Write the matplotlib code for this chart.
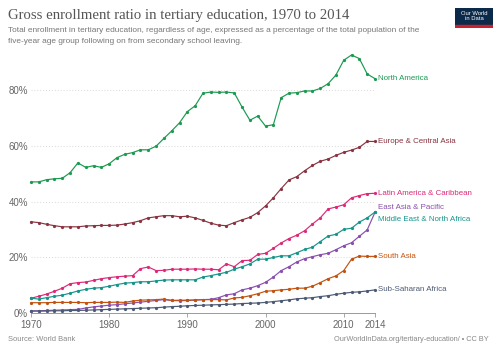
import matplotlib.pyplot as plt
import numpy as np

years = list(range(1970, 2015))

north_america = [47.1, 47.1, 47.9, 48.2, 48.4, 50.4, 53.9, 52.3, 52.9, 52.3,
                 53.6, 55.8, 57.0, 57.6, 58.6, 58.6, 59.9, 62.7, 65.4, 68.3,
                 72.3, 74.4, 78.9, 79.3, 79.2, 79.3, 79.0, 73.9, 69.2, 70.7,
                 67.1, 67.6, 77.3, 78.9, 79.1, 79.7, 79.7, 80.6, 82.3, 85.4,
                 90.7, 92.6, 91.3, 85.8, 84.1]
europe = [32.8, 32.5, 31.9, 31.4, 31.0, 31.0, 31.0, 31.3, 31.4, 31.5,
          31.5, 31.6, 32.0, 32.5, 33.2, 34.2, 34.6, 35.0, 35.0, 34.6,
          34.8, 34.2, 33.3, 32.3, 31.6, 31.4, 32.5, 33.5, 34.4, 36.1,
          38.5, 41.4, 44.7, 47.8, 49.0, 51.1, 53.0, 54.5, 55.3, 56.6,
          57.7, 58.5, 59.5, 61.6, 61.6]
latin_america = [5.4, 6.1, 6.9, 7.9, 9.0, 10.6, 11.0, 11.2, 11.8, 12.4,
                 12.8, 13.1, 13.3, 13.5, 16.0, 16.6, 15.3, 15.4, 15.8, 15.8,
                 15.8, 15.9, 15.8, 15.8, 15.6, 17.7, 16.7, 18.9, 19.0, 21.1,
                 21.5, 23.3, 25.2, 26.8, 28.0, 29.6, 32.0, 34.2, 37.4, 38.1,
                 38.9, 41.4, 42.2, 42.9, 43.0]
east_asia = [0.8, 0.9, 1.0, 1.1, 1.2, 1.3, 1.4, 1.9, 2.3, 2.6,
             2.9, 3.1, 3.4, 3.7, 4.0, 4.3, 4.6, 4.9, 4.6, 4.5,
             4.6, 4.7, 4.9, 5.0, 5.6, 6.6, 7.0, 8.4, 9.0, 9.9,
             11.1, 13.0, 15.3, 16.7, 18.4, 19.6, 20.3, 21.0, 21.5, 22.8,
             24.2, 25.3, 27.6, 29.9, 36.2]
mena = [5.4, 5.1, 5.6, 6.1, 6.5, 7.2, 8.0, 8.6, 9.0, 9.2,
        9.7, 10.3, 10.8, 11.0, 11.3, 11.3, 11.6, 11.9, 12.0, 12.0,
        12.0, 12.0, 13.0, 13.5, 14.1, 14.7, 15.8, 16.7, 17.7, 19.4,
        19.4, 20.0, 20.6, 20.6, 21.7, 22.9, 23.7, 25.7, 27.7, 28.3,
        30.1, 30.5, 32.7, 34.2, 36.3]
south_asia = [3.8, 3.8, 3.8, 3.9, 3.9, 3.9, 3.9, 3.8, 3.9, 3.9,
              3.9, 4.0, 3.9, 4.4, 4.7, 4.8, 4.9, 5.1, 4.6, 4.7,
              4.7, 4.8, 4.9, 4.9, 4.9, 4.8, 5.5, 5.7, 6.3, 7.0,
              7.9, 8.1, 8.4, 8.6, 9.0, 9.0, 9.7, 11.0, 12.4, 13.4,
              15.3, 19.4, 20.5, 20.4, 20.4]
sub_saharan = [0.8, 0.8, 0.8, 0.9, 0.9, 1.0, 1.0, 1.1, 1.2, 1.3,
               1.4, 1.5, 1.6, 1.7, 1.8, 1.9, 2.0, 2.2, 2.4, 2.5,
               2.7, 2.8, 2.9, 3.0, 3.1, 3.2, 3.3, 3.5, 3.6, 3.7,
               3.9, 4.2, 4.5, 4.8, 5.2, 5.4, 5.6, 6.0, 6.3, 6.8,
               7.2, 7.5, 7.7, 8.0, 8.4]

names = ["North America", "Europe & Central Asia", "Latin America & Caribbean",
         "East Asia & Pacific", "Middle East & North Africa", "South Asia",
         "Sub-Saharan Africa"]
series = [north_america, europe, latin_america, east_asia, mena, south_asia, sub_saharan]
colors = ["#1b9a50", "#8a3442", "#dc2a78", "#8a4fae", "#17958a", "#c4520f", "#4c5a74"]
label_dy = [0, 0, 0, 3.5, -5.5, 0, 0]  # points, keeps the two close labels apart

yticks = [0, 20, 40, 60, 80]
xticks = [1970, 1980, 1990, 2000, 2010, 2014]

fig = plt.figure(figsize=(5, 3.53), dpi=100)
ax = fig.add_axes([0.062, 0.1125, 0.688, 0.746])

for name, vals, c, dy in zip(names, series, colors, label_dy):
    ax.plot(years, vals, color=c, lw=0.85, marker='o', ms=1.3, clip_on=False, zorder=3)
    ax.annotate(name, xy=(years[-1], vals[-1]), xytext=(2.5, dy), textcoords='offset points',
                color=c, fontsize=5.7, va='center', ha='left', family='Liberation Sans',
                annotation_clip=False)

ax.set_xlim(1970, 2014)
ax.set_ylim(0, 94.4)
ax.set_yticks(yticks)
ax.set_yticklabels([f"{v}%" for v in yticks])
ax.set_xticks(xticks)
for v in yticks[1:]:
    ax.axhline(v, color='#d8d8d8', lw=0.7, ls=(0, (1, 2)), zorder=1)

for s in ['top', 'right', 'left']:
    ax.spines[s].set_visible(False)
ax.spines['bottom'].set_color('#999999')
ax.spines['bottom'].set_linewidth(0.7)
ax.tick_params(axis='y', length=0, pad=2, labelsize=7, labelcolor='#666666')
ax.tick_params(axis='x', length=3, width=0.6, color='#999999', pad=2,
               labelsize=7, labelcolor='#666666')
for lab in ax.get_xticklabels() + ax.get_yticklabels():
    lab.set_family('Liberation Sans')

fig.text(0.016, 0.955, "Gross enrollment ratio in tertiary education, 1970 to 2014",
         family='Liberation Serif', fontsize=10.6, color='#555555', va='center')
fig.text(0.016, 0.913, "Total enrollment in tertiary education, regardless of age, expressed as a percentage of the total population of the",
         family='Liberation Sans', fontsize=5.95, color='#777777', va='center')
fig.text(0.016, 0.882, "five-year age group following on from secondary school leaving.",
         family='Liberation Sans', fontsize=5.95, color='#777777', va='center')

fig.text(0.016, 0.037, "Source: World Bank", family='Liberation Sans', fontsize=5.4,
         color='#888888', va='center')
fig.text(0.978, 0.037, "OurWorldInData.org/tertiary-education/ \u2022 CC BY",
         family='Liberation Sans', fontsize=5.3, color='#888888', va='center', ha='right')

# logo box
logo = fig.add_axes([0.910, 0.921, 0.076, 0.057])
logo.set_xlim(0, 1)
logo.set_ylim(0, 1)
logo.axis('off')
logo.add_patch(plt.Rectangle((0, 0.12), 1, 0.88, color='#0b2a4a'))
logo.add_patch(plt.Rectangle((0, 0), 1, 0.12, color='#c8202d'))
logo.text(0.5, 0.58, "Our World\nin Data", color='white', fontsize=4.2, ha='center',
          va='center', family='Liberation Sans', linespacing=1.0)

fig.savefig("out.png", dpi=100)
